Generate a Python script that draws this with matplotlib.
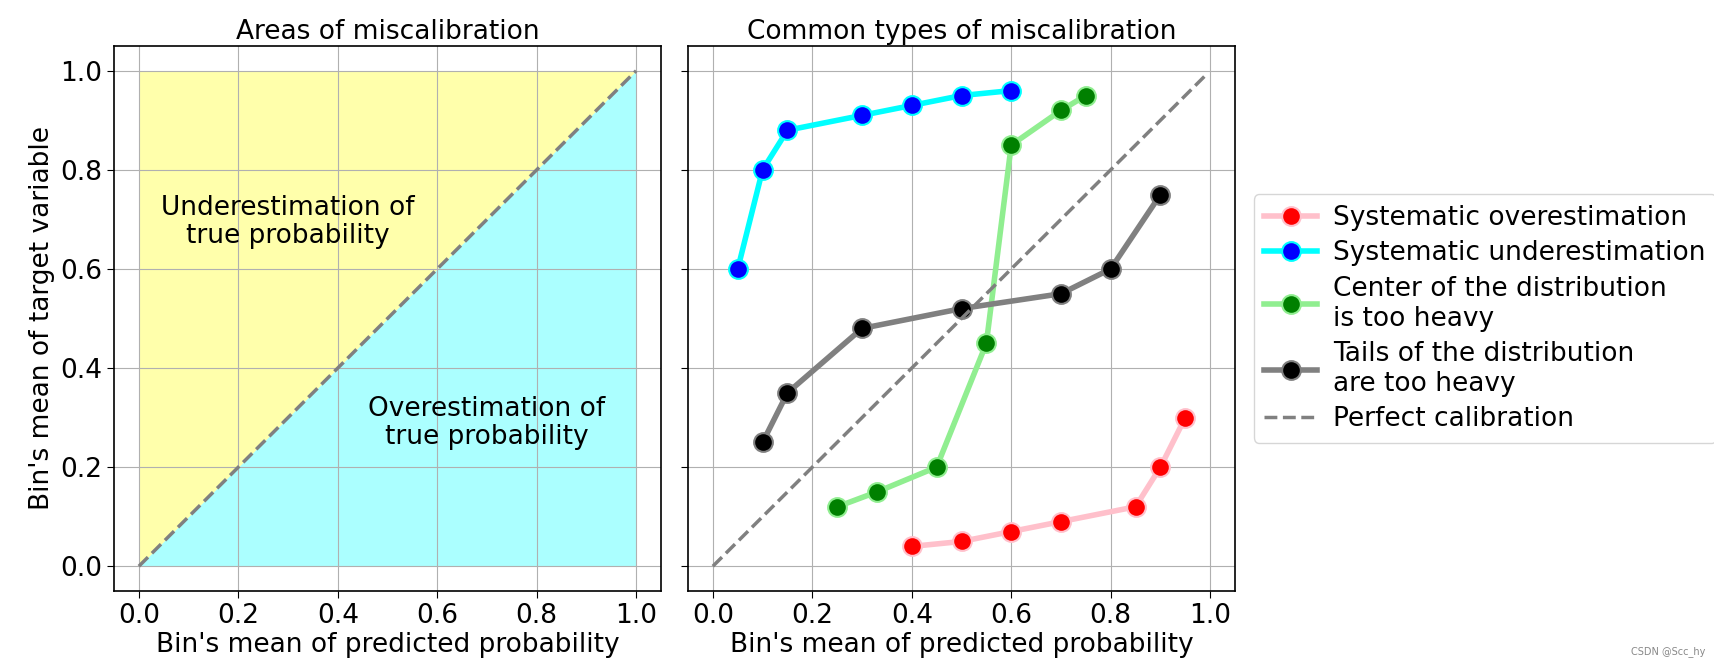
import matplotlib
matplotlib.use("Agg")
import matplotlib.pyplot as plt

# diagonal / perfect calibration
diag_x = [0.0, 1.0]
perfect_x = [0.0, 0.99]

over_x = [0.4, 0.5, 0.6, 0.7, 0.85, 0.9, 0.95]
over_y = [0.04, 0.05, 0.07, 0.09, 0.12, 0.2, 0.3]

under_x = [0.05, 0.1, 0.15, 0.3, 0.4, 0.5, 0.6]
under_y = [0.6, 0.8, 0.88, 0.91, 0.93, 0.95, 0.96]

center_x = [0.25, 0.33, 0.45, 0.55, 0.6, 0.7, 0.75]
center_y = [0.12, 0.15, 0.2, 0.45, 0.85, 0.92, 0.95]

tails_x = [0.1, 0.15, 0.3, 0.5, 0.7, 0.8, 0.9]
tails_y = [0.25, 0.35, 0.48, 0.52, 0.55, 0.6, 0.75]

SERIES = [
    ("Systematic overestimation", over_x, over_y, "pink", "red"),
    ("Systematic underestimation", under_x, under_y, "cyan", "blue"),
    ("Center of the distribution\nis too heavy", center_x, center_y, "lightgreen", "green"),
    ("Tails of the distribution\nare too heavy", tails_x, tails_y, "grey", "black"),
]

FS = 19
plt.rcParams.update({
    "font.size": FS,
    "xtick.major.size": 5,
    "ytick.major.size": 5,
    "axes.linewidth": 1.2,
})

fig = plt.figure(figsize=(17.14, 6.72), dpi=100)
ax1 = fig.add_axes([114 / 1714, 1 - 591 / 672, 547 / 1714, 545 / 672])
ax2 = fig.add_axes([688 / 1714, 1 - 591 / 672, 547 / 1714, 545 / 672], sharey=ax1)

# ── Left: areas ──
ax1.fill_between(diag_x, diag_x, [1, 1], color="yellow", alpha=0.33, lw=0)
ax1.fill_between(diag_x, [0, 0], diag_x, color="cyan", alpha=0.33, lw=0)
ax1.plot(diag_x, diag_x, ls="--", color="grey", lw=2.5)
ax1.text(0.30, 0.695, "Underestimation of\ntrue probability", ha="center", va="center",
         fontsize=FS, linespacing=1.1)
ax1.text(0.70, 0.29, "Overestimation of\ntrue probability", ha="center", va="center",
         fontsize=FS, linespacing=1.1)
ax1.set_title("Areas of miscalibration", fontsize=FS, pad=5)
ax1.set_xlabel("Bin's mean of predicted probability", fontsize=FS, labelpad=2)
ax1.set_ylabel("Bin's mean of target variable", fontsize=FS)
ax1.grid(True)

# ── Right: common types ──
for label, xs, ys, lc, mc in SERIES:
    ax2.plot(xs, ys, "-", color=lc, lw=4, marker="o", ms=13.5,
             mfc=mc, mec=lc, mew=1.5, label=label)
ax2.plot(perfect_x, perfect_x, ls="--", color="grey", lw=2.5, label="Perfect calibration")
ax2.set_title("Common types of miscalibration", fontsize=FS, pad=5)
ax2.set_xlabel("Bin's mean of predicted probability", fontsize=FS, labelpad=2)
ax2.grid(True)
plt.setp(ax2.get_yticklabels(), visible=False)
ax2.legend(loc="center left", bbox_to_anchor=(1.01, 0.5), fontsize=FS,
           handlelength=2.0, labelspacing=0.35, borderpad=0.4, handletextpad=0.6)

for ax in (ax1, ax2):
    ax.set_xticks([0.0, 0.2, 0.4, 0.6, 0.8, 1.0])
    ax.set_yticks([0.0, 0.2, 0.4, 0.6, 0.8, 1.0])
    ax.set_xlim(-0.05, 1.05)
    ax.set_ylim(-0.05, 1.05)

fig.text(0.995, 0.03, "CSDN @Scc_hy", ha="right", va="center", fontsize=7, color="#888888")

fig.savefig("out.png", dpi=100, facecolor="white")
